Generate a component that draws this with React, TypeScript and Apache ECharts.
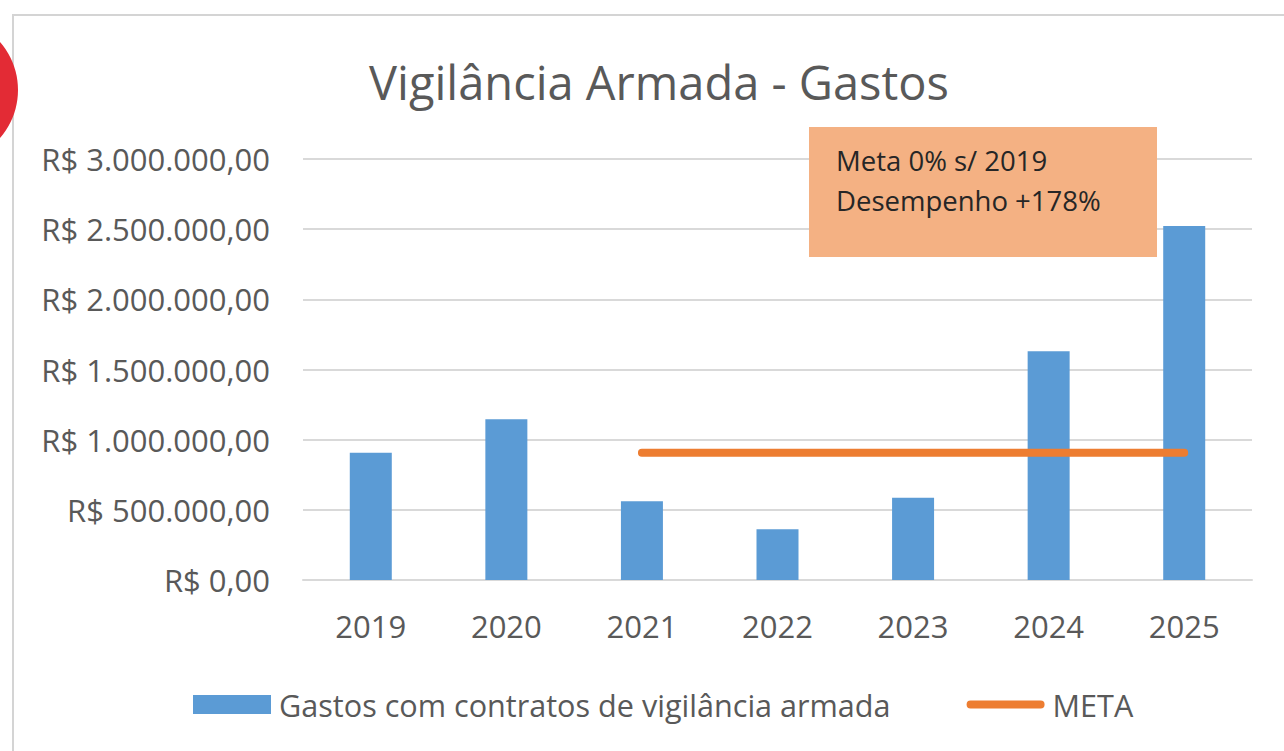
import React, { useEffect, useRef } from "react";
import * as echarts from "echarts";

const years = ["2019", "2020", "2021", "2022", "2023", "2024", "2025"];
const gastos = [907000, 1146000, 562000, 361000, 586000, 1630000, 2522000];
const meta = [null, null, 907000, 907000, 907000, 907000, 907000];
const titleText = "Vigilância Armada - Gastos";
const seriesNames = ["Gastos com contratos de vigilância armada", "META"];
const noteLines = ["Meta 0% s/ 2019", "Desempenho +178%"];
const yMin = 0;
const yMax = 3000000;
const yStep = 500000;

const FONT = "'Open Sans', 'Noto Sans', sans-serif";
const LINE_ICON = "path://M4,0 L76,0 A4,4 0 0 1 76,8 L4,8 A4,4 0 0 1 4,0 Z";

function brl(v: number): string {
  const s = Math.round(v)
    .toString()
    .replace(/\B(?=(\d{3})+(?!\d))/g, ".");
  return "R$ " + s + ",00";
}

export default function App() {
  const ref = useRef<HTMLDivElement>(null);
  useEffect(() => {
    if (!ref.current) return;
    const chart = echarts.init(ref.current, null, { renderer: "svg" });
    chart.setOption({
      animation: false,
      backgroundColor: "#ffffff",
      title: {
        text: titleText,
        left: 654,
        textAlign: "center",
        top: 53,
        textStyle: {
          fontFamily: FONT,
          fontSize: 47,
          fontWeight: "normal",
          color: "#595959",
          lineHeight: 48,
        },
      },
      legend: {
        left: 193,
        top: 689,
        padding: 0,
        itemWidth: 78,
        itemHeight: 19,
        itemGap: 76,
        textStyle: { fontFamily: FONT, fontSize: 30.6, color: "#595959", padding: [0, 0, 0, 3] },
        data: [
          { name: seriesNames[0], icon: "rect" },
          { name: seriesNames[1], icon: LINE_ICON, itemStyle: { color: "#ED7D31" } },
        ],
      },
      grid: { left: 303, right: 32, top: 159, bottom: 171, containLabel: false },
      xAxis: {
        type: "category",
        data: years,
        axisTick: { show: false },
        axisLine: { lineStyle: { color: "#D9D9D9", width: 2 } },
        axisLabel: { fontFamily: FONT, fontSize: 31, color: "#595959", margin: 30 },
      },
      yAxis: {
        type: "value",
        min: yMin,
        max: yMax,
        interval: yStep,
        axisLine: { show: false },
        axisTick: { show: false },
        splitLine: { lineStyle: { color: "#D9D9D9", width: 2 } },
        axisLabel: {
          fontFamily: FONT,
          fontSize: 31,
          color: "#595959",
          margin: 33,
          formatter: (v: number) => brl(v),
        },
      },
      series: [
        {
          name: seriesNames[0],
          type: "bar",
          data: gastos,
          barWidth: 42,
          itemStyle: { color: "#5B9BD5" },
          z: 2,
        },
        {
          name: seriesNames[1],
          type: "line",
          data: meta,
          symbol: "none",
          connectNulls: false,
          lineStyle: { color: "#ED7D31", width: 8, cap: "round" },
          itemStyle: { color: "#ED7D31" },
          z: 3,
        },
      ],
      graphic: [
        {
          type: "rect",
          silent: true,
          z: -10,
          shape: { x: 13, y: 15, width: 1400, height: 800 },
          style: { fill: "none", stroke: "#D4D4D4", lineWidth: 2 },
        },
        {
          type: "circle",
          silent: true,
          z: 10,
          shape: { cx: -55, cy: 90, r: 73 },
          style: { fill: "#E32B35" },
        },
        {
          type: "rect",
          silent: true,
          z: 10,
          shape: { x: 809, y: 127, width: 348, height: 130 },
          style: { fill: "#F4B183" },
        },
        {
          type: "text",
          silent: true,
          z: 11,
          x: 836,
          y: 160,
          style: {
            text: noteLines[0],
            fontFamily: FONT,
            fontSize: 27.5,
            fill: "#262626",
            verticalAlign: "middle",
            align: "left",
          },
        },
        {
          type: "text",
          silent: true,
          z: 11,
          x: 836,
          y: 200,
          style: {
            text: noteLines[1],
            fontFamily: FONT,
            fontSize: 27.5,
            fill: "#262626",
            verticalAlign: "middle",
            align: "left",
          },
        },
      ],
    });
    return () => chart.dispose();
  }, []);
  return (
    <div
      ref={ref}
      style={{ position: "absolute", left: 0, top: 0, width: 1284, height: 751 }}
    />
  );
}
